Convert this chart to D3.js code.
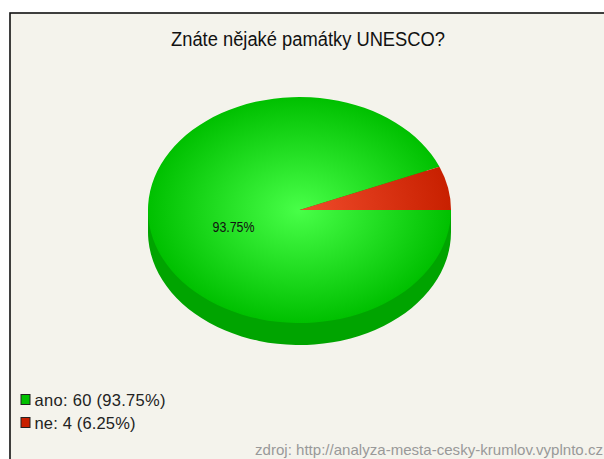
<!DOCTYPE html>
<html><head><meta charset="utf-8">
<script src="https://cdnjs.cloudflare.com/ajax/libs/d3/7.8.5/d3.min.js"></script>
<style>html,body{margin:0;padding:0;background:#fff}svg{display:block}text{font-family:"Liberation Sans",Arial,sans-serif}</style>
</head><body><svg id="c" width="604" height="459"></svg>
<script>
const categories = ["ano", "ne"];
const values = [60, 4];
const percentLabels = ["93.75%", "6.25%"];
const titleText = "Znáte nějaké památky UNESCO?";
const sourceText = "zdroj: http://analyza-mesta-cesky-krumlov.vyplnto.cz";
const baseColors = ["#00c000", "#c82000"];
const sideColors = ["#00a400", "#a01800"];
const lightColors = ["#48ff48", "#f04c2c"];
const legendWidths = [131, 101];

const svg = d3.select("#c");
svg.append("rect").attr("width",604).attr("height",459).attr("fill","#fff");
svg.append("rect").attr("x",10).attr("y",13).attr("width",600).attr("height",460)
  .attr("fill","#f4f3ec").attr("stroke","#111").attr("stroke-width",1.6);

const cx=299.5, cy=210, rx=151.5, ry=113, depth=22;
const defs = svg.append("defs");
categories.forEach((c,i)=>{
  const g = defs.append("radialGradient").attr("id","g"+i)
    .attr("gradientUnits","userSpaceOnUse").attr("cx",0).attr("cy",0).attr("r",rx);
  g.append("stop").attr("offset",0).attr("stop-color",lightColors[i]);
  g.append("stop").attr("offset",1).attr("stop-color",baseColors[i]);
});
const pie = d3.pie().sort(null).startAngle(Math.PI/2).endAngle(Math.PI*2.5);
const arcs = pie(values);
const arc = d3.arc().innerRadius(0).outerRadius(rx);
const scaleY = ry/rx;
// first slice runs clockwise from 3 o'clock, the second closes back up to it
const sideGroup = svg.append("g").attr("transform",`translate(${cx},${cy+depth}) scale(1,${scaleY})`);
sideGroup.selectAll("path").data(arcs).join("path").attr("d",arc).attr("fill",(d,i)=>sideColors[i]);
svg.append("rect").attr("x",cx-rx).attr("y",cy).attr("width",2*rx).attr("height",depth).attr("fill",sideColors[0]);
const topGroup = svg.append("g").attr("transform",`translate(${cx},${cy}) scale(1,${scaleY})`);
topGroup.selectAll("path").data(arcs).join("path").attr("d",arc).attr("fill",(d,i)=>`url(#g${i})`);

svg.append("text").attr("x",308).attr("y",46).attr("text-anchor","middle")
  .attr("font-size",20).attr("textLength",274).attr("lengthAdjust","spacingAndGlyphs").attr("fill","#111").text(titleText);
svg.append("text").attr("x",233.5).attr("y",232).attr("text-anchor","middle")
  .attr("font-size",14).attr("textLength",42).attr("lengthAdjust","spacingAndGlyphs").attr("fill","#111").text(percentLabels[0]);

const legendY = d3.scalePoint().domain(categories).range([400,423]);
const lg = svg.append("g").selectAll("g").data(categories).join("g");
lg.append("rect").attr("x",21).attr("y",c=>legendY(c)-5.5).attr("width",9).attr("height",10)
  .attr("fill",(c,i)=>baseColors[i]).attr("stroke","#222").attr("stroke-width",1);
lg.append("text").attr("x",34.5).attr("y",c=>legendY(c)+5.5).attr("font-size",16.5).attr("fill","#222")
  .attr("textLength",(c,i)=>legendWidths[i]).attr("lengthAdjust","spacing")
  .text((c,i)=>`${c}: ${values[i]} (${percentLabels[i]})`);

svg.append("text").attr("x",603).attr("y",455).attr("text-anchor","end")
  .attr("font-size",14.5).attr("textLength",348).attr("lengthAdjust","spacingAndGlyphs").attr("fill","#999").text(sourceText);
</script></body></html>
